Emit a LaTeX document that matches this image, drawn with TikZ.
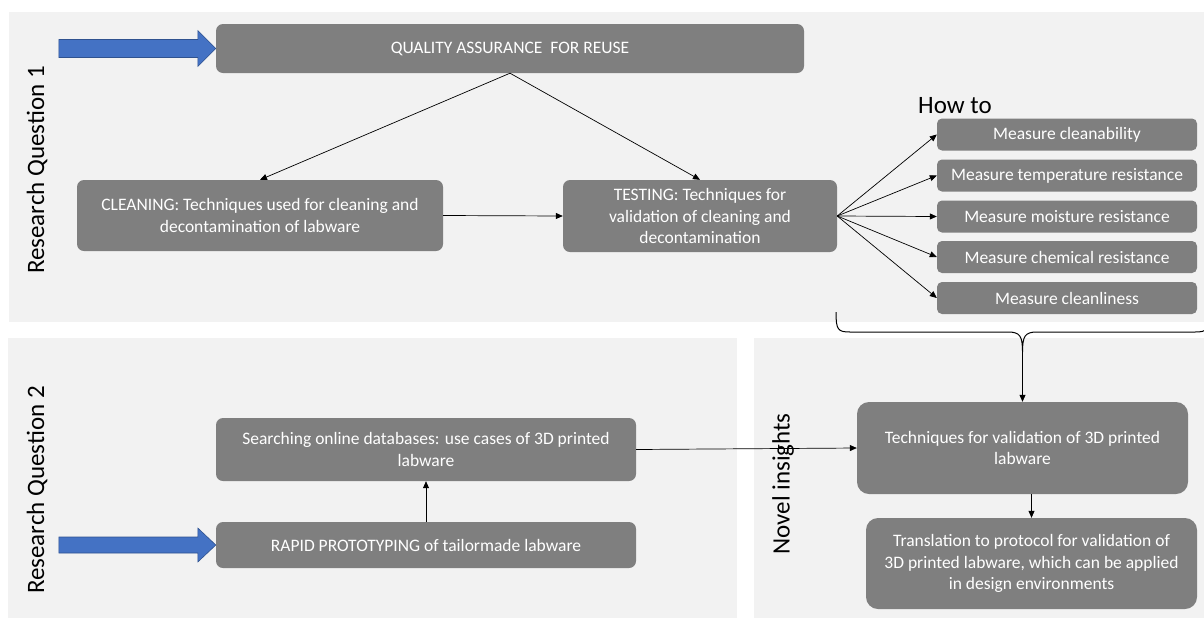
\documentclass[tikz,border=0pt]{standalone}
\usepackage{fontspec}
\setmainfont{Carlito}
\usetikzlibrary{arrows.meta,calc}
\definecolor{panel}{HTML}{F2F2F2}
\definecolor{boxgray}{HTML}{7F7F7F}
\definecolor{blueA}{HTML}{4472C4}
\definecolor{blueB}{HTML}{2F528F}
\begin{document}
\begin{tikzpicture}[x=1pt,y=-1pt,
  box/.style={draw=none,fill=boxgray,text=white,rounded corners=7pt,align=center,inner sep=2pt,
    font=\fontsize{17.5}{21.5}\selectfont},
  mbox/.style={box,rounded corners=5pt,minimum width=260pt,minimum height=32pt},
  conn/.style={draw=black,line width=0.7pt,-{Triangle[length=7pt,width=6pt]}},
  biglabel/.style={font=\fontsize{25}{30}\selectfont,text=black,inner sep=0pt},
  blockarrow/.style={fill=blueA,draw=blueB,line width=0.6pt}]
\useasboundingbox (0,0) rectangle (1204,619);
\fill[white] (0,0) rectangle (1204,619);
% panels
\fill[panel] (9,12) rectangle (1204,322);
\fill[panel] (8,338) rectangle (737,618);
\fill[panel] (754,338) rectangle (1204,618);

% nodes
\node[box,minimum width=588pt,minimum height=49pt] (qa) at (510,48.5) {QUALITY ASSURANCE\ \ FOR REUSE};
\node[box,minimum width=366pt,minimum height=71pt] (cl) at (260,215.5) {CLEANING: Techniques used for cleaning and\\decontamination of labware};
\node[box,minimum width=274pt,minimum height=72pt] (te) at (700,216) {TESTING: Techniques for\\validation of cleaning and\\decontamination};
\node[mbox] (m1) at (1067,134.5) {Measure cleanability};
\node[mbox] (m2) at (1067,175.5) {Measure temperature resistance};
\node[mbox] (m3) at (1067,216.5) {Measure moisture resistance};
\node[mbox] (m4) at (1067,257) {Measure chemical resistance};
\node[mbox] (m5) at (1067,298) {Measure cleanliness};
\node[biglabel,anchor=base west] (howto) at (918,113) {How to};

\node[box,minimum width=420pt,minimum height=63pt] (se) at (426,449.5) {Searching online databases: use cases of 3D printed\\labware};
\node[box,minimum width=420pt,minimum height=46pt] (ra) at (426,545) {RAPID PROTOTYPING of tailormade labware};
\node[box,minimum width=331pt,minimum height=92pt,rounded corners=12pt] (tv) at (1022.5,448) {Techniques for validation of 3D printed\\labware};
\node[box,minimum width=331pt,minimum height=91pt,rounded corners=12pt] (tr) at (1031.5,563.5) {Translation to protocol for validation of\\3D printed labware, which can be applied\\in design environments};

\node[biglabel,rotate=90] (rq1) at (37,170) {Research Question 1};
\node[biglabel,rotate=90] (rq2) at (37,490) {Research Question 2};
\node[biglabel,rotate=90] (ni) at (783,484) {Novel insights};

% block arrows
\draw[blockarrow] ($(qa.west)+(-157,-9)$) -- ($(qa.west)+(-18,-9)$) -- ($(qa.west)+(-18,-18)$) -- (qa.west)
  -- ($(qa.west)+(-18,18)$) -- ($(qa.west)+(-18,9)$) -- ($(qa.west)+(-157,9)$) -- cycle;
\draw[blockarrow] ($(ra.west)+(-157,-8)$) -- ($(ra.west)+(-18,-8)$) -- ($(ra.west)+(-18,-17)$) -- (ra.west)
  -- ($(ra.west)+(-18,17)$) -- ($(ra.west)+(-18,8)$) -- ($(ra.west)+(-157,8)$) -- cycle;

% connectors
\draw[conn] (qa.south) -- (cl.north);
\draw[conn] (qa.south) -- (te.north);
\draw[conn] (cl.east) -- (te.west);
\foreach \m in {m1,m2,m3,m4,m5}{\draw[conn] (te.east) -- (\m.west);}
\draw[conn] (ra.north) -- (se.south);
\draw[conn] (se.east) -- (tv.west);
\draw[conn] (tv.south -| tr.north) -- (tr.north);

% brace
\coordinate (bt) at (1022.5,352);
\draw[line width=1pt,black] (836,312) .. controls (836,330) and (838,332) .. (850,332) -- (1008,332)
  .. controls (1020,332) and (1022.5,336) .. (bt)
  .. controls (1022.5,336) and (1025,332) .. (1037,332) -- (1195,332)
  .. controls (1207,332) and (1209,330) .. (1209,312);
\draw[conn] (bt) -- (tv.north);
\end{tikzpicture}
\end{document}
